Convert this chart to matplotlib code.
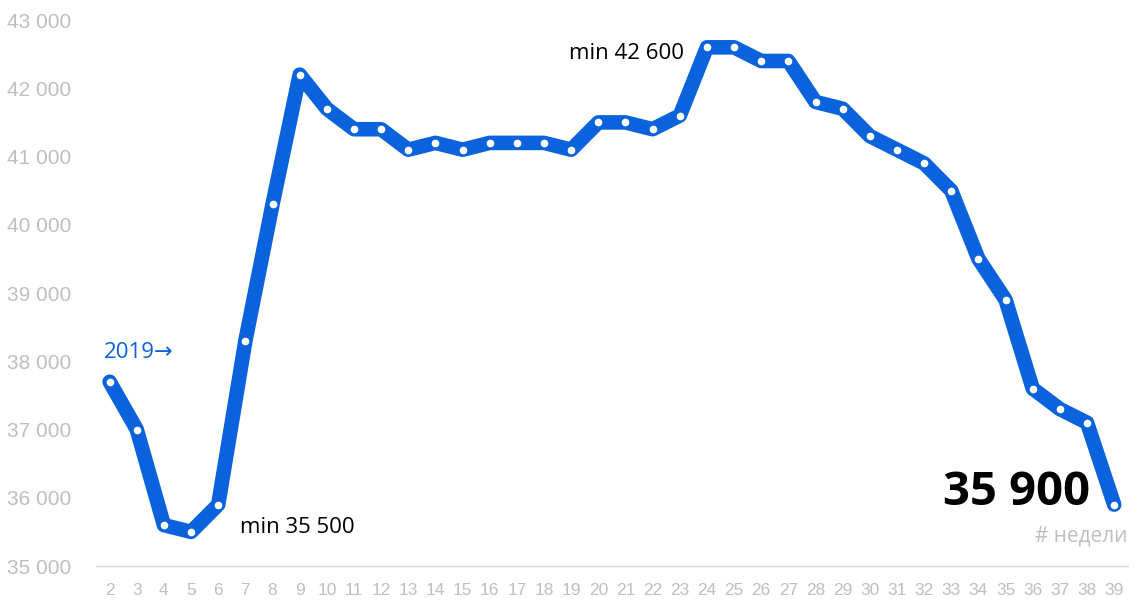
import matplotlib
matplotlib.use('Agg')
from matplotlib import pyplot as plt

# Weekly values, 2019
weeks = list(range(2, 40))
values = [37700, 37000, 35600, 35500, 35900, 38300, 40300, 42200, 41700, 41400,
          41400, 41100, 41200, 41100, 41200, 41200, 41200, 41100, 41500, 41500,
          41400, 41600, 42600, 42600, 42400, 42400, 41800, 41700, 41300, 41100,
          40900, 40500, 39500, 38900, 37600, 37300, 37100, 35900]
y_ticks = [35000, 36000, 37000, 38000, 39000, 40000, 41000, 42000, 43000]
y_labels = ['35 000', '36 000', '37 000', '38 000', '39 000', '40 000', '41 000', '42 000', '43 000']

blue = '#0a62dc'
grey = '#bfbfbf'
txt_font = ['Open Sans', 'DejaVu Sans']

fig = plt.figure(figsize=(11.38, 6.07), dpi=100)
ax = fig.add_axes([0.0844, 0.0675, 0.9066, 0.8995])

ax.plot(weeks, values, color=blue, linewidth=10.5, solid_joinstyle='round',
        solid_capstyle='round', zorder=2)
ax.plot(weeks, values, linestyle='none', marker='o', markersize=4.5,
        markerfacecolor='white', markeredgecolor='white', zorder=3)

ax.set_xlim(1.5, 39.5)
ax.set_ylim(35000, 43000)
ax.set_xticks(weeks)
ax.set_xticklabels([str(w) for w in weeks], fontsize=12.5, color=grey,
                   family=['Liberation Sans Narrow', 'Liberation Sans'])
ax.set_yticks(y_ticks)
ax.set_yticklabels(y_labels, fontsize=15, color=grey, family='Liberation Sans')
ax.tick_params(axis='both', length=0)
ax.tick_params(axis='x', pad=12)
ax.tick_params(axis='y', pad=18)

for side in ['top', 'right', 'left']:
    ax.spines[side].set_visible(False)
ax.spines['bottom'].set_color('#d9d9d9')
ax.spines['bottom'].set_linewidth(1)

# Annotations
ax.text(1.78, 38135, '2019\u2192', color=blue, fontsize=16, family=txt_font,
        ha='left', va='center')
ax.text(6.8, 35571, 'min 35 500', color='black', fontsize=16, family=txt_font,
        ha='left', va='center')
ax.text(23.15, 42516, 'min 42 600', color='black', fontsize=16, family=txt_font,
        ha='right', va='center')
ax.text(38.1, 36084, '35 900', color='black', fontsize=34, family=txt_font,
        fontweight='bold', ha='right', va='center')
ax.text(39.5, 35440, '# недели', color=grey, fontsize=15, family=txt_font,
        ha='right', va='center')

fig.savefig('out.png', dpi=100)
